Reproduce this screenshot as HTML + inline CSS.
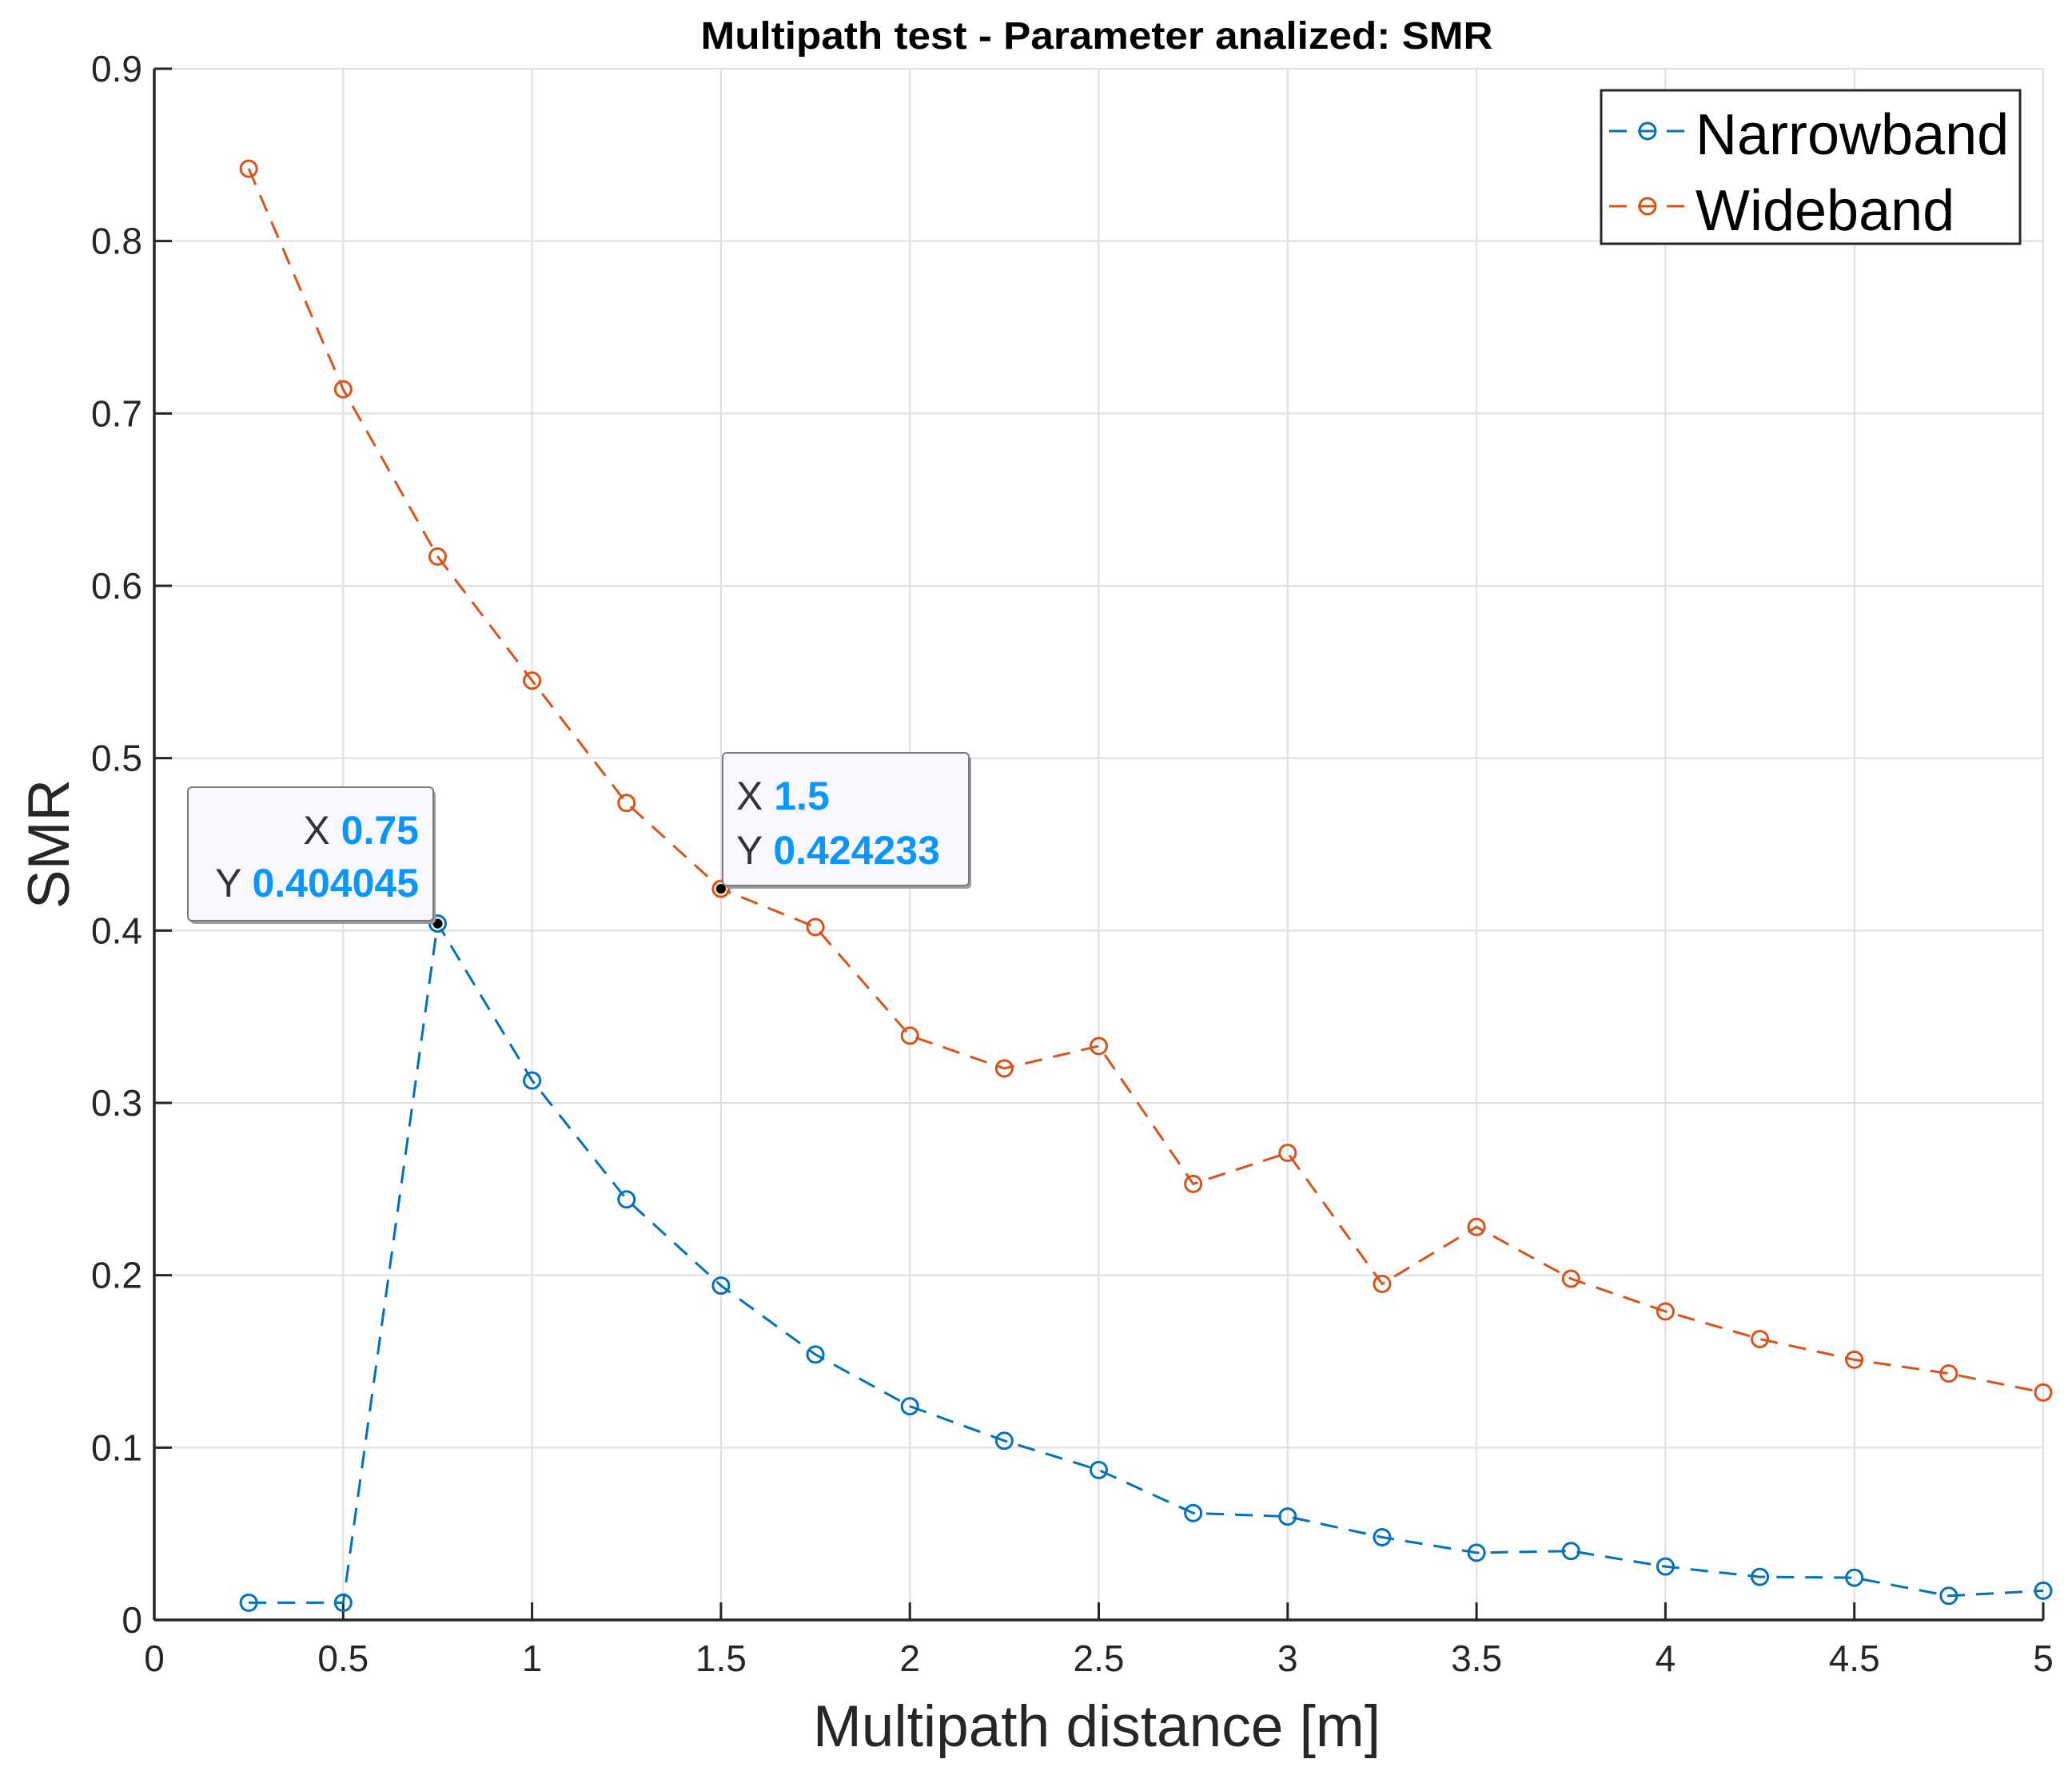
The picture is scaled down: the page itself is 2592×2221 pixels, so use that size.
<!DOCTYPE html>
<html><head><meta charset="utf-8"><style>
html,body{margin:0;padding:0;background:#fff;}
svg{display:block;font-family:"Liberation Sans",sans-serif;}
</style></head><body>
<svg id="chart" width="2592" height="2221" viewBox="0 0 2592 2221" xmlns="http://www.w3.org/2000/svg">
<rect x="0" y="0" width="2592" height="2221" fill="#fff"/>
<g id="grid"></g>
<g id="axes"></g>
<g id="series"></g>
<text x="1372" y="61" text-anchor="middle" font-size="48" font-weight="bold" fill="#000" textLength="991" lengthAdjust="spacingAndGlyphs">Multipath test - Parameter analized: SMR</text>
<text x="1372" y="2185" text-anchor="middle" font-size="73" fill="#262626">Multipath distance [m]</text>
<text transform="translate(86,1056) rotate(-90)" text-anchor="middle" font-size="73" fill="#262626">SMR</text>
<g>
<rect x="2003" y="113" width="524" height="192" fill="#fff" stroke="#262626" stroke-width="3"/>
<g>
<line x1="2013" y1="164" x2="2113" y2="164" stroke="#0072BD" stroke-width="3" stroke-dasharray="22,14"/>
<circle cx="2061" cy="164" r="10" fill="none" stroke="#0072BD" stroke-width="3"/>
<text x="2121" y="193" font-size="72" fill="#000">Narrowband</text>
</g>
<g>
<line x1="2013" y1="258" x2="2113" y2="258" stroke="#D95319" stroke-width="3" stroke-dasharray="22,14"/>
<circle cx="2061" cy="258" r="10" fill="none" stroke="#D95319" stroke-width="3"/>
<text x="2121" y="288" font-size="72" fill="#000">Wideband</text>
</g>
</g>
<g id="tips"></g>
</svg>
<script>
const xValues=[0.25,0.5,0.75,1,1.25,1.5,1.75,2,2.25,2.5,2.75,3,3.25,3.5,3.75,4,4.25,4.5,4.75,5];
const narrowband=[0.010,0.010,0.404045,0.313,0.244,0.194,0.154,0.124,0.104,0.087,0.062,0.060,0.048,0.039,0.040,0.031,0.025,0.0245,0.014,0.017];
const wideband=[0.842,0.714,0.617,0.545,0.474,0.424233,0.402,0.339,0.320,0.333,0.253,0.271,0.195,0.228,0.198,0.179,0.163,0.151,0.143,0.132];
const xTicks=[0,0.5,1,1.5,2,2.5,3,3.5,4,4.5,5];
const xTickLabels=["0","0.5","1","1.5","2","2.5","3","3.5","4","4.5","5"];
const yTicks=[0,0.1,0.2,0.3,0.4,0.5,0.6,0.7,0.8,0.9];
const yTickLabels=["0","0.1","0.2","0.3","0.4","0.5","0.6","0.7","0.8","0.9"];

const NS="http://www.w3.org/2000/svg";
const L=193,R=2556,T=86,B=2027,XMAX=5,YMAX=0.9;
function sx(v){return L+(v/XMAX)*(R-L);}
function sy(v){return B-(v/YMAX)*(B-T);}
function mk(tag,attrs,parent){const e=document.createElementNS(NS,tag);for(const k in attrs)e.setAttribute(k,attrs[k]);parent.appendChild(e);return e;}
const grid=document.getElementById('grid'),axes=document.getElementById('axes'),series=document.getElementById('series'),tips=document.getElementById('tips');

xTicks.forEach((t,i)=>{
  const g=mk('line',{x1:sx(t),y1:T,x2:sx(t),y2:B,stroke:'#dfdfdf','stroke-width':2},grid);
  
  
  const tk=mk('line',{x1:sx(t),y1:B,x2:sx(t),y2:B-22,stroke:'#262626','stroke-width':3},axes);
  
  
  const lb=mk('text',{x:sx(t),y:2091,'text-anchor':'middle','font-size':46,fill:'#262626'},axes);
  lb.textContent=xTickLabels[i];
  
  
});
yTicks.forEach((t,i)=>{
  const g=mk('line',{x1:L,y1:sy(t),x2:R,y2:sy(t),stroke:'#dfdfdf','stroke-width':2},grid);
  
  
  const tk=mk('line',{x1:L,y1:sy(t),x2:L+22,y2:sy(t),stroke:'#262626','stroke-width':3},axes);
  
  
  const lb=mk('text',{x:178,y:sy(t)+16,'text-anchor':'end','font-size':46,fill:'#262626'},axes);
  lb.textContent=yTickLabels[i];
  
  
});
const xa=mk('line',{x1:L,y1:B,x2:R,y2:B,stroke:'#262626','stroke-width':3.5},axes);


const ya=mk('line',{x1:L,y1:T,x2:L,y2:B,stroke:'#262626','stroke-width':3.5},axes);



function drawSeries(vals,color,name){
  const pts=vals.map((v,i)=>sx(xValues[i])+','+sy(v)).join(' ');
  const pl=mk('polyline',{points:pts,fill:'none',stroke:color,'stroke-width':3,'stroke-dasharray':'22,14'},series);
  
  
  vals.forEach((v,i)=>{
    const c=mk('circle',{cx:sx(xValues[i]),cy:sy(v),r:10,fill:'none',stroke:color,'stroke-width':3},series);
    
    
  });
}
drawSeries(narrowband,'#0072BD','narrowband');
drawSeries(wideband,'#D95319','wideband');

function tip(px,py,bx,by,bw,bh,lines,anchor,tx,name){
  const d=mk('circle',{cx:px,cy:py,r:7,fill:'#000',stroke:'#f0e6c8','stroke-width':2},tips);
  
  
  const s=mk('rect',{x:bx+3,y:by+4,width:bw,height:bh,rx:5,fill:'#9a9a9a'},tips);
  
  
  const r=mk('rect',{x:bx,y:by,width:bw,height:bh,rx:5,fill:'#f8f8fe',stroke:'#7a7a7a','stroke-width':2},tips);
  
  
  lines.forEach(l=>{
    const t=mk('text',{x:tx,y:l[2],'text-anchor':anchor,'font-size':50},tips);
    
    
    const a=mk('tspan',{fill:'#333'},t);a.textContent=l[0]+' ';
    const b=mk('tspan',{fill:'#0a96ff','font-weight':'bold'},t);b.textContent=l[1];
  });
}
tip(sx(xValues[2]),sy(narrowband[2]),235,985,307,167,[["X","0.75",1056],["Y","0.404045",1122]],'end',524,'datatip-narrowband');
tip(sx(xValues[5]),sy(wideband[5]),904,942,308,166,[["X","1.5",1013],["Y","0.424233",1081]],'start',921,'datatip-wideband');
</script>
</body></html>
